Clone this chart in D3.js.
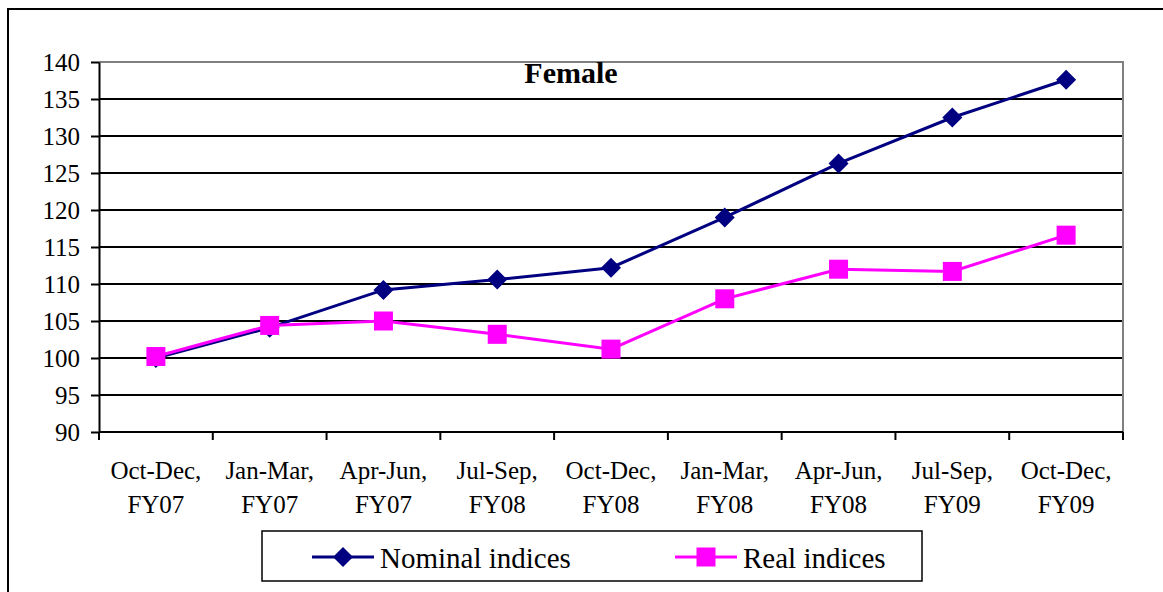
<!DOCTYPE html>
<html>
<head>
<meta charset="utf-8">
<script src="https://cdn.jsdelivr.net/npm/d3@7"></script>
</head>
<body style="margin:0; background:#fff">
<div id="chart"></div>
<script>
const quarters = ["Oct-Dec,", "Jan-Mar,", "Apr-Jun,", "Jul-Sep,", "Oct-Dec,", "Jan-Mar,", "Apr-Jun,", "Jul-Sep,", "Oct-Dec,"];
const years = ["FY07", "FY07", "FY07", "FY08", "FY08", "FY08", "FY08", "FY09", "FY09"];
const nominal = [100, 104.1, 109.2, 110.6, 112.2, 119, 126.3, 132.5, 137.6];
const real = [100.2, 104.4, 105, 103.2, 101.2, 108, 112, 111.7, 116.6];
const yTicks = [90, 95, 100, 105, 110, 115, 120, 125, 130, 135, 140];

function createLineChart() {
    const W = 1163, H = 592;
    const left = 99, right = 1123, top = 62, bottom = 432;

    const svg = d3.select("#chart").append("svg")
        .attr("width", W)
        .attr("height", H);

    // ram runt hela figuren
    svg.append("rect")
        .attr("x", 8).attr("y", 9)
        .attr("width", W + 10).attr("height", H + 10)
        .attr("fill", "none")
        .attr("stroke", "#000")
        .attr("stroke-width", 2);

    const idx = d3.range(quarters.length);
    const x = d3.scaleBand().domain(idx).range([left, right]);
    const y = d3.scaleLinear().domain([90, 140]).range([bottom, top]);

    // rutnät
    svg.append("g")
        .selectAll("line")
        .data(yTicks.filter(d => d > 90 && d < 140))
        .enter().append("line")
        .attr("x1", left).attr("x2", right)
        .attr("y1", d => y(d)).attr("y2", d => y(d))
        .attr("stroke", "#000")
        .attr("stroke-width", 2);

    // plotytans kant
    svg.append("path")
        .attr("d", `M${left},${top}H${right}V${bottom}`)
        .attr("fill", "none")
        .attr("stroke", "#808080")
        .attr("stroke-width", 2);

    // y-axel
    const yAxis = svg.append("g")
        .attr("transform", `translate(${left},0)`)
        .call(d3.axisLeft(y).tickValues(yTicks).tickSize(8).tickSizeOuter(0).tickPadding(11));
    yAxis.attr("font-family", null).attr("font-size", null);
    yAxis.select(".domain").attr("stroke", "#000").attr("stroke-width", 2);
    yAxis.selectAll(".tick line").attr("stroke", "#000").attr("stroke-width", 2);
    yAxis.selectAll(".tick text")
        .attr("font-family", "Liberation Serif")
        .attr("font-size", 25)
        .attr("fill", "#000");

    // x-axel med streck mellan kategorierna
    svg.append("line")
        .attr("x1", left).attr("x2", right)
        .attr("y1", bottom).attr("y2", bottom)
        .attr("stroke", "#000").attr("stroke-width", 2);
    svg.append("g")
        .selectAll("line")
        .data(d3.range(quarters.length + 1))
        .enter().append("line")
        .attr("x1", d => left + d * x.step())
        .attr("x2", d => left + d * x.step())
        .attr("y1", bottom).attr("y2", bottom + 8)
        .attr("stroke", "#000").attr("stroke-width", 2);

    const labels = svg.append("g")
        .selectAll("text")
        .data(idx)
        .enter().append("text")
        .attr("text-anchor", "middle")
        .attr("font-family", "Times New Roman")
        .attr("font-size", 25)
        .attr("fill", "#000");
    labels.append("tspan")
        .attr("x", d => x(d) + x.bandwidth() / 2)
        .attr("y", 479)
        .text(d => quarters[d]);
    labels.append("tspan")
        .attr("x", d => x(d) + x.bandwidth() / 2)
        .attr("y", 513)
        .text(d => years[d]);

    const cx = i => x(i) + x.bandwidth() / 2;
    const line = d3.line().x((d, i) => cx(i)).y(d => y(d));

    // nominella index
    svg.append("path")
        .datum(nominal)
        .attr("d", line)
        .attr("fill", "none")
        .attr("stroke", "#000080")
        .attr("stroke-width", 3);
    svg.append("g")
        .selectAll("path")
        .data(nominal)
        .enter().append("path")
        .attr("d", (d, i) => `M${cx(i)},${y(d) - 10}l10,10l-10,10l-10,-10z`)
        .attr("fill", "#000080");

    // reala index
    svg.append("path")
        .datum(real)
        .attr("d", line)
        .attr("fill", "none")
        .attr("stroke", "#ff00ff")
        .attr("stroke-width", 3);
    svg.append("g")
        .selectAll("rect")
        .data(real)
        .enter().append("rect")
        .attr("x", (d, i) => cx(i) - 9.5)
        .attr("y", d => y(d) - 9.5)
        .attr("width", 19).attr("height", 19)
        .attr("fill", "#ff00ff");

    // rubrik
    svg.append("text")
        .attr("x", 571).attr("y", 83)
        .attr("text-anchor", "middle")
        .attr("font-family", "serif")
        .attr("font-size", 30)
        .attr("font-weight", "bold")
        .attr("fill", "#000")
        .text("Female");

    // legend
    const lg = svg.append("g");
    lg.append("rect")
        .attr("x", 262).attr("y", 531)
        .attr("width", 660).attr("height", 50)
        .attr("fill", "#fff")
        .attr("stroke", "#000")
        .attr("stroke-width", 1.5);
    const items = [
        { name: "Nominal indices", color: "#000080", marker: "diamond", x0: 312 },
        { name: "Real indices", color: "#ff00ff", marker: "square", x0: 675 }
    ];
    items.forEach(it => {
        lg.append("line")
            .attr("x1", it.x0).attr("x2", it.x0 + 62)
            .attr("y1", 557).attr("y2", 557)
            .attr("stroke", it.color).attr("stroke-width", 3);
        if (it.marker === "diamond") {
            lg.append("path")
                .attr("d", `M${it.x0 + 31},${547}l10,10l-10,10l-10,-10z`)
                .attr("fill", it.color);
        } else {
            lg.append("rect")
                .attr("x", it.x0 + 21.5).attr("y", 547.5)
                .attr("width", 19).attr("height", 19)
                .attr("fill", it.color);
        }
        lg.append("text")
            .attr("x", it.x0 + 68).attr("y", 568)
            .attr("font-family", "Liberation Serif, serif")
            .attr("font-size", 29)
            .attr("fill", "#000")
            .text(it.name);
    });
}

createLineChart();
</script>
</body>
</html>
